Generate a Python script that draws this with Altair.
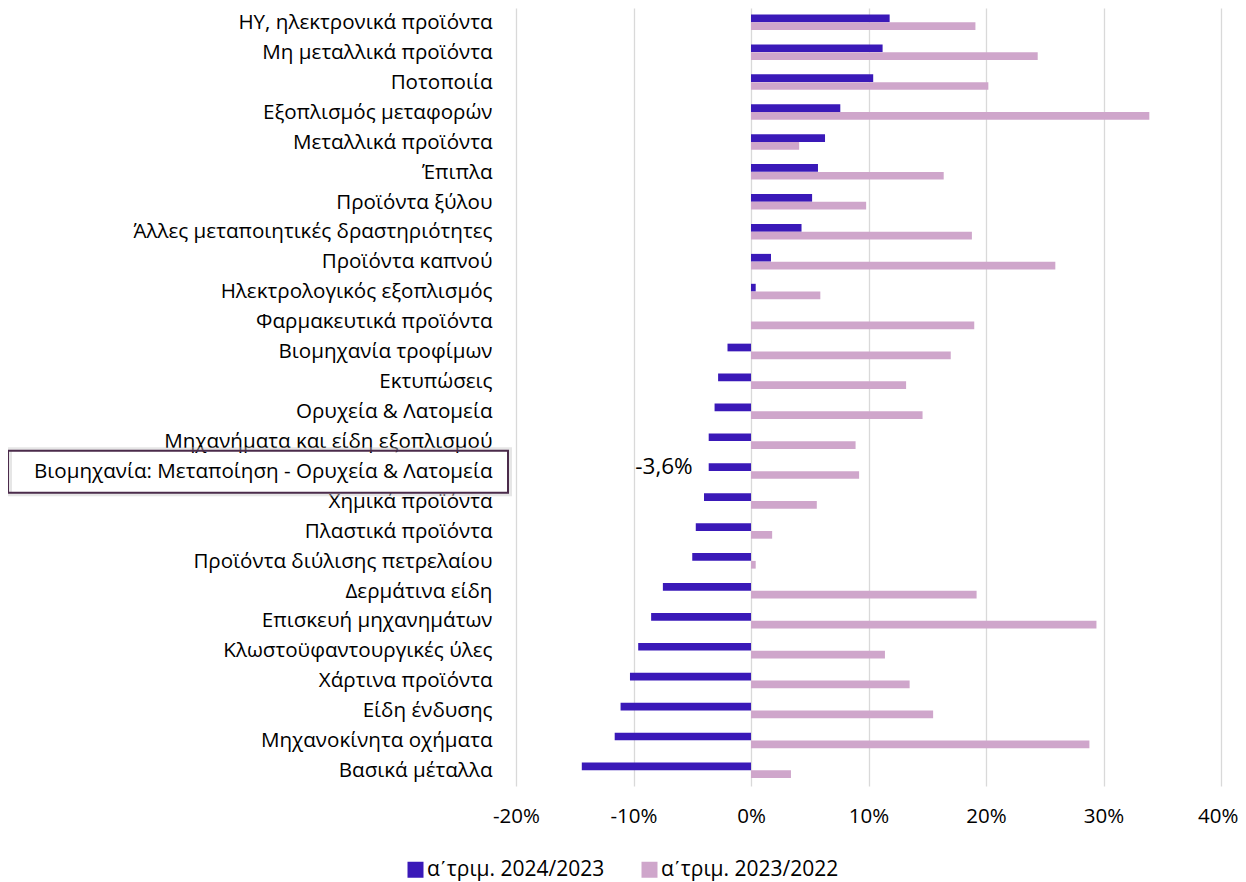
import altair as alt
import pandas as pd

categories = [
    "ΗΥ, ηλεκτρονικά προϊόντα",
    "Μη μεταλλικά προϊόντα",
    "Ποτοποιία",
    "Εξοπλισμός μεταφορών",
    "Μεταλλικά προϊόντα",
    "Έπιπλα",
    "Προϊόντα ξύλου",
    "Άλλες μεταποιητικές δραστηριότητες",
    "Προϊόντα καπνού",
    "Ηλεκτρολογικός εξοπλισμός",
    "Φαρμακευτικά προϊόντα",
    "Βιομηχανία τροφίμων",
    "Εκτυπώσεις",
    "Ορυχεία & Λατομεία",
    "Μηχανήματα και είδη εξοπλισμού",
    "Βιομηχανία: Μεταποίηση - Ορυχεία & Λατομεία",
    "Χημικά προϊόντα",
    "Πλαστικά προϊόντα",
    "Προϊόντα διύλισης πετρελαίου\u00a0\u00a0",
    "Δερμάτινα είδη",
    "Επισκευή μηχανημάτων",
    "Κλωστοϋφαντουργικές ύλες",
    "Χάρτινα προϊόντα",
    "Είδη ένδυσης",
    "Μηχανοκίνητα οχήματα",
    "Βασικά μέταλλα",
]
q1_2024_vs_2023 = [11.8, 11.2, 10.4, 7.6, 6.3, 5.7, 5.2, 4.3, 1.7, 0.4, 0.0,
                   -2.0, -2.8, -3.1, -3.6, -3.6, -4.0, -4.7, -5.0, -7.5, -8.5,
                   -9.6, -10.3, -11.1, -11.6, -14.4]
q1_2023_vs_2022 = [19.1, 24.4, 20.2, 33.9, 4.1, 16.4, 9.8, 18.8, 25.9, 5.9, 19.0,
                   17.0, 13.2, 14.6, 8.9, 9.2, 5.6, 1.8, 0.4, 19.2, 29.4,
                   11.4, 13.5, 15.5, 28.8, 3.4]
series_names = ["α\u0374τριμ. 2024/2023", "α\u0374τριμ. 2023/2022"]
series_colors = ["#3a19b8", "#cfa6cb"]
highlight = "Βιομηχανία: Μεταποίηση - Ορυχεία & Λατομεία"
x_ticks = [-20, -10, 0, 10, 20, 30, 40]

rows = []
for c, a, b in zip(categories, q1_2024_vs_2023, q1_2023_vs_2022):
    rows.append({"cat": c, "series": series_names[0], "value": a})
    rows.append({"cat": c, "series": series_names[1], "value": b})
df = pd.DataFrame(rows)

FONT = "Open Sans"

y_axis = alt.Axis(title=None, domain=False, ticks=False, grid=False,
                  labelPadding=24, labelFontSize=20.6, labelColor="#000000",
                  labelFont=FONT, labelLimit=700)
y_scale = alt.Scale(paddingInner=0, paddingOuter=0)
y_enc = alt.Y("cat:N", sort=categories, scale=y_scale, axis=y_axis)

x_enc = alt.X(
    "value:Q",
    scale=alt.Scale(domain=[-20, 40], nice=False),
    axis=alt.Axis(values=x_ticks, title=None, domain=False, ticks=False,
                  labelExpr="datum.value + '%'", grid=True, labelFlush=False,
                  labelAlign=alt.ExprRef("datum.value == 40 ? 'right' : 'center'"),
                  labelOffset=alt.ExprRef("datum.value == 40 ? 17 : 0"),
                  gridColor="#d9d9d9", gridWidth=1.3, labelPadding=20,
                  labelFontSize=20.5, labelFont=FONT, labelColor="#000000"),
)
yoff = alt.YOffset("series:N", sort=series_names,
                   scale=alt.Scale(paddingOuter=0.92, paddingInner=0, align=0.45))

bars = alt.Chart(df).mark_bar(size=7.7).encode(
    y=y_enc,
    x=x_enc,
    yOffset=yoff,
    color=alt.Color(
        "series:N", sort=series_names,
        scale=alt.Scale(domain=series_names, range=series_colors),
        legend=alt.Legend(orient="none", legendX=-111, legendY=851,
                          direction="horizontal", title=None,
                          symbolType="square", symbolSize=256,
                          symbolStrokeWidth=0, labelFontSize=21,
                          labelFont=FONT, labelColor="#000000",
                          labelLimit=400, columnPadding=34, labelOffset=1),
    ),
)

box_df = pd.DataFrame({"cat": [highlight]})
shadow = alt.Chart(box_df).mark_bar(
    orient="horizontal", size=45, fillOpacity=0, stroke="#c8c8c8",
    strokeWidth=4, strokeOpacity=0.45,
).encode(y=y_enc, x=alt.value(-506), x2=alt.value(-6))
box = alt.Chart(box_df).mark_bar(
    orient="horizontal", size=42, fill="white", fillOpacity=0,
    stroke="#4b2b4b", strokeWidth=2,
).encode(y=y_enc, x=alt.value(-508), x2=alt.value(-8))

lab_df = df[(df["cat"] == highlight) & (df["series"] == series_names[0])].copy()
lab_df["label"] = lab_df["value"].map(lambda v: f"{v:.1f}".replace(".", ",") + "%")
text = alt.Chart(lab_df).mark_text(
    align="right", baseline="middle", dx=-16, fontSize=22.5, font=FONT,
    color="#000000",
).encode(y=y_enc, x="value:Q", yOffset=yoff, text="label:N")

chart = alt.layer(bars, shadow, box, text).properties(
    width=705, height=778,
    padding={"left": 508, "top": 0, "right": 17, "bottom": 96},
    autosize=alt.AutoSizeParams(type="none"),
).configure_view(stroke=None)

chart.save("out.html", embed_options={"renderer": "svg", "actions": False})
